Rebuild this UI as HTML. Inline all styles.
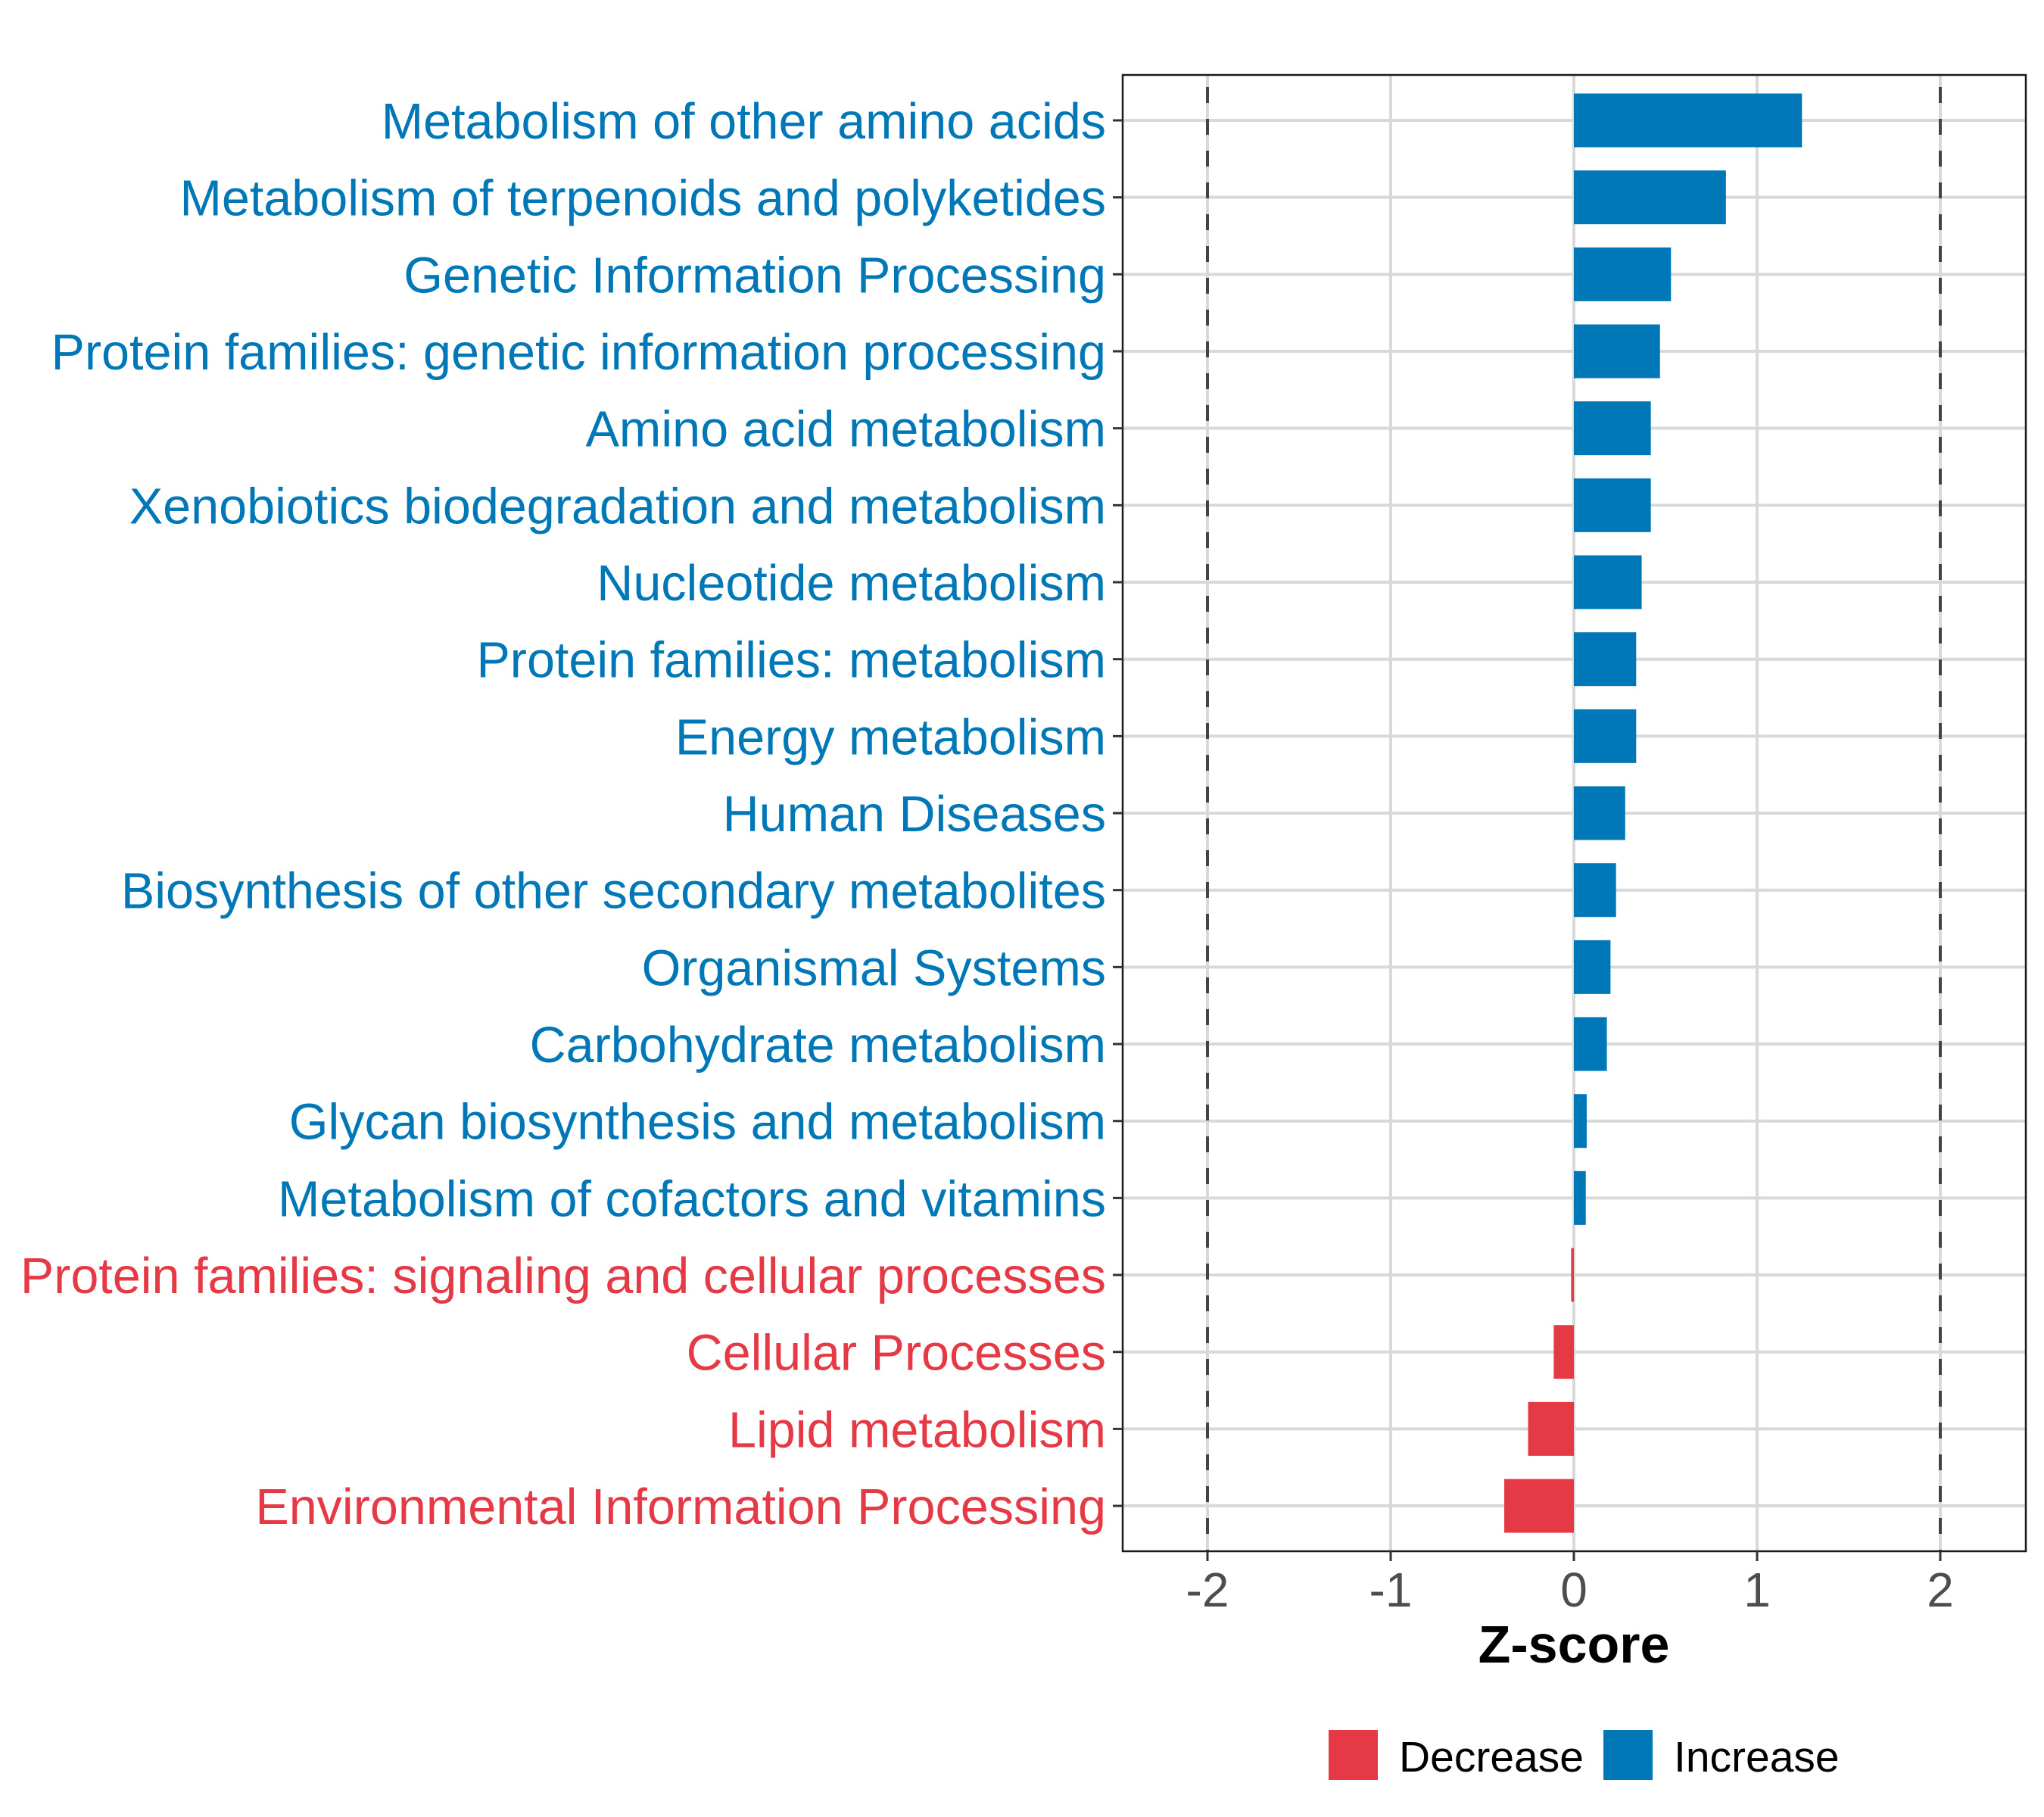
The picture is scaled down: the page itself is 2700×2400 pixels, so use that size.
<!DOCTYPE html>
<html><head><meta charset="utf-8"><style>
html,body{margin:0;padding:0;background:#fff;}
svg{display:block;font-family:"Liberation Sans",Arial,sans-serif;}
</style></head><body>
<svg id="chart" width="2700" height="2400" viewBox="0 0 2700 2400" xmlns="http://www.w3.org/2000/svg">
<rect width="2700" height="2400" fill="#fff"/>
<g id="grid"></g>
<g id="bars"></g>
<g id="refs"></g>
<rect x="1483" y="99" width="1193" height="1950" fill="none" stroke="#1a1a1a" stroke-width="2.5"/>
<g id="yaxis"></g>
<g id="xaxis"></g>
<text x="2079" y="2196" text-anchor="middle" font-size="70" font-weight="bold" fill="#000">Z-score</text>
<g>
<rect x="1755" y="2285" width="65" height="66" fill="#E63946"/>
<text x="1848" y="2340" font-size="57" fill="#000">Decrease</text>
<rect x="2118" y="2285" width="65" height="66" fill="#0077B6"/>
<text x="2211" y="2340" font-size="57" fill="#000">Increase</text>
</g>
</svg>
<script>
const categories = ["Metabolism of other amino acids","Metabolism of terpenoids and polyketides","Genetic Information Processing","Protein families: genetic information processing","Amino acid metabolism","Xenobiotics biodegradation and metabolism","Nucleotide metabolism","Protein families: metabolism","Energy metabolism","Human Diseases","Biosynthesis of other secondary metabolites","Organismal Systems","Carbohydrate metabolism","Glycan biosynthesis and metabolism","Metabolism of cofactors and vitamins","Protein families: signaling and cellular processes","Cellular Processes","Lipid metabolism","Environmental Information Processing"];
const zscores = [1.245,0.83,0.53,0.47,0.42,0.42,0.37,0.34,0.34,0.28,0.23,0.20,0.18,0.07,0.065,-0.015,-0.11,-0.25,-0.38];
const xTicks = [-2,-1,0,1,2];
const xTickLabels = ["-2","-1","0","1","2"];
const refLines = [-2,2];

const NS="http://www.w3.org/2000/svg";
const X0=2079, PXU=242, PL=1483, PR=2676, PT=99, PB=2049, ROW0=159, ROWS=101.67, BH=71;
function xs(v){return X0+v*PXU;}
function ys(i){return ROW0+i*ROWS;}
function mk(tag,attrs,parent){const e=document.createElementNS(NS,tag);for(const k in attrs)e.setAttribute(k,attrs[k]);parent.appendChild(e);return e;}
const grid=document.getElementById('grid'),bars=document.getElementById('bars'),refs=document.getElementById('refs'),yaxis=document.getElementById('yaxis'),xaxis=document.getElementById('xaxis');
xTicks.forEach((t,i)=>{
  const g=mk('line',{x1:xs(t),x2:xs(t),y1:PT,y2:PB,stroke:'#d9d9d9','stroke-width':4},grid);
  
  
  const tk=mk('line',{x1:xs(t),x2:xs(t),y1:PB,y2:PB+13,stroke:'#333','stroke-width':3},xaxis);
  
  
  const tl=mk('text',{x:xs(t),y:2122,'text-anchor':'middle','font-size':64,fill:'#4d4d4d'},xaxis);
  tl.textContent=xTickLabels[i];
  
  
});
categories.forEach((c,i)=>{
  const y=ys(i);
  const gl=mk('line',{x1:PL,x2:PR,y1:y,y2:y,stroke:'#d9d9d9','stroke-width':4},grid);
  
  
  const v=zscores[i];
  const col=v>=0?'#0077B6':'#E63946';
  const b=mk('rect',{x:Math.min(xs(0),xs(v)),y:y-BH/2,width:Math.abs(xs(v)-xs(0)),height:BH,fill:col},bars);
  
  
  const tk=mk('line',{x1:PL-13,x2:PL,y1:y,y2:y,stroke:'#333','stroke-width':3},yaxis);
  
  
  const t=mk('text',{x:1461,y:y+24,'text-anchor':'end','font-size':66.5,fill:col},yaxis);
  t.textContent=c;
  
  
});
refLines.forEach(r=>{
  const l=mk('line',{x1:xs(r),x2:xs(r),y1:PT,y2:PB,stroke:'#444','stroke-width':4,'stroke-dasharray':'21 21','stroke-dashoffset':'-16'},refs);
  
  
});
</script>
</body></html>
